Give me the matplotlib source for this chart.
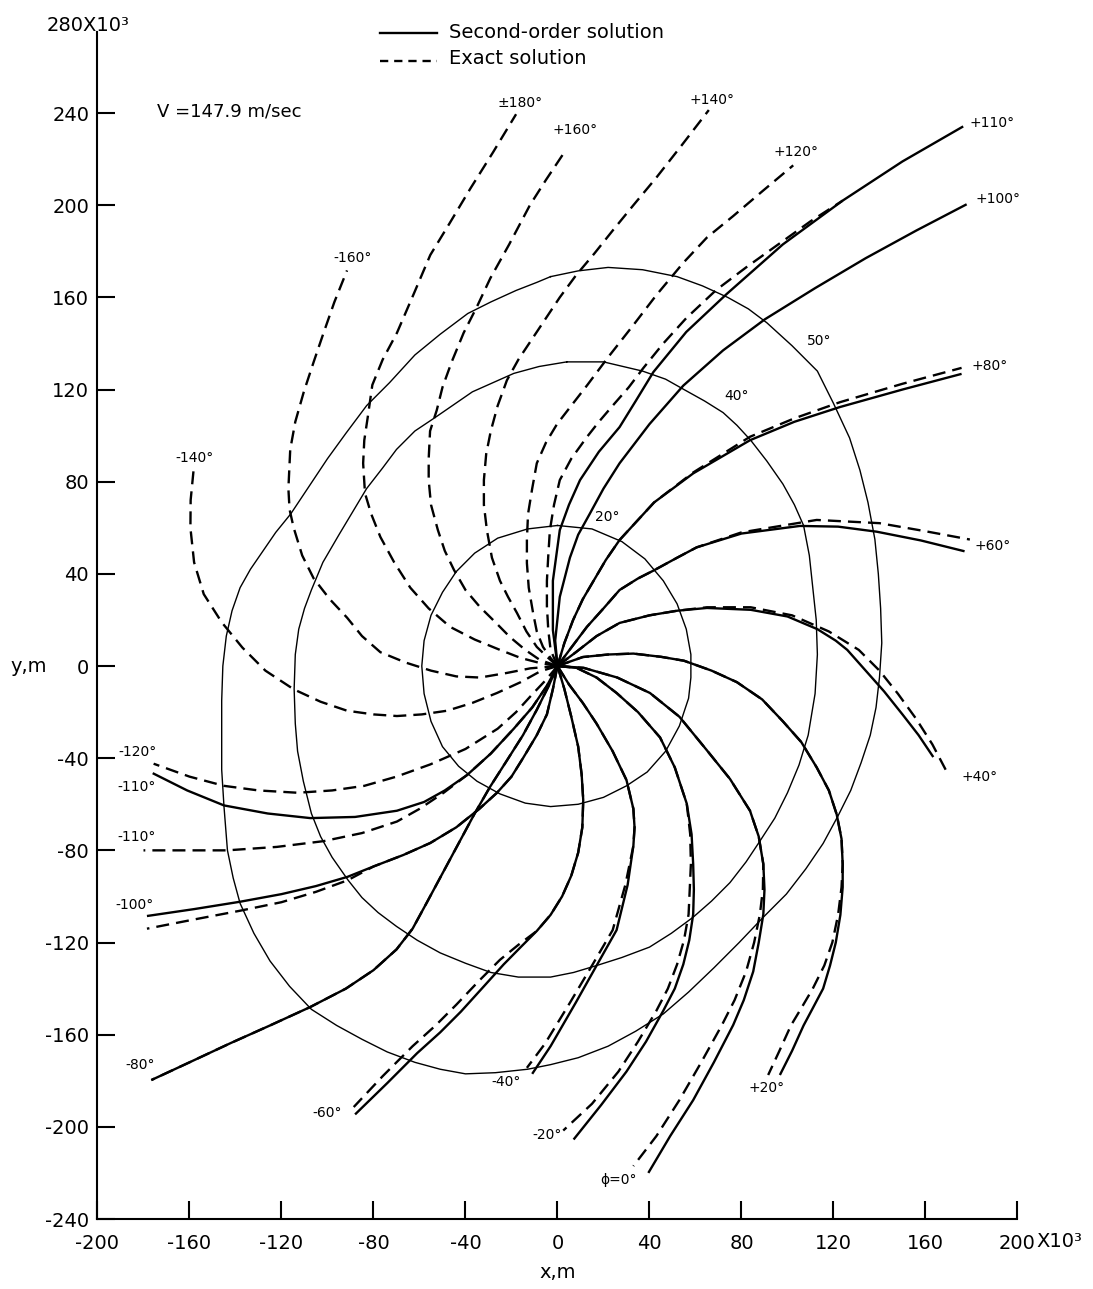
import matplotlib
matplotlib.use("Agg")
import matplotlib.pyplot as plt

# ---------------- axis ticks ----------------
x_ticks = [-200, -160, -120, -80, -40, 0, 40, 80, 120, 160, 200]
y_ticks = [-240, -200, -160, -120, -80, -40, 0, 40, 80, 120, 160, 200, 240]

# ---------------- contour lines (thin) ----------------
c20_x = [0, 15, 28, 38, 46, 52, 56, 58, 58, 57, 53, 47, 39, 30, 20, 9, -3, -14, -25, -35, -43, -50, -55,
         -58, -59, -58, -55, -50, -44, -36, -26, -13, 0]
c20_y = [61, 59.5, 54, 46.5, 37, 27, 16, 5, -5, -14, -26, -37, -46, -52, -57, -60, -61, -59.5, -55.5, -50,
         -43.5, -35, -24, -12, 0, 11, 22, 32, 41, 49, 55.5, 59.5, 61]

c40_x = [4, 20, 37, 47, 55, 64, 72, 78, 84, 91, 98, 103, 107, 109.5, 111, 112.5, 113, 112, 109, 105, 100,
         94.5, 88, 82, 75, 67, 59, 49.5, 40, 28, 17, 7, -3, -17, -29, -40, -51, -61, -70, -78, -85, -91,
         -98, -103, -107, -110.5, -113, -114, -114.5, -114, -112.5, -110, -107, -102, -95, -89, -83, -76,
         -70, -62, -53, -45, -37, -28, -19, -8, 4]
c40_y = [132, 132, 128, 124.5, 120, 115, 110, 104.5, 98, 89, 79, 70, 61, 48, 34, 20, 5, -12, -30, -43,
         -55, -66, -76, -85, -94, -102, -109, -116, -122, -126.5, -130, -133, -135, -135, -133, -129,
         -124.5, -119, -113, -107, -100.5, -93, -83, -74, -64, -50, -37, -25, -10, 5, 16, 25, 33, 45, 57,
         67, 77, 86, 94, 102, 108, 113.5, 119, 123, 127, 130, 132]

c50_x = [-3, 9, 22, 37, 52, 63, 74, 83, 91, 102, 113, 120, 127, 131.5, 135, 138, 139.5, 140.5, 141, 140,
         138.5, 136, 132, 127.5, 122, 115.5, 108, 99.5, 89.5, 79, 68, 57, 46, 34, 22, 9, -3, -13, -27, -40,
         -51, -62, -74, -85, -96, -107, -116.5, -125, -132, -138, -141, -143.5, -145, -146, -146, -146,
         -145.5, -144, -141.5, -138, -133.5, -128, -122.5, -116, -108, -100, -92, -83, -73, -62, -51, -39,
         -29, -18, -9, -3]
c50_y = [169, 171.5, 173, 172, 169, 165, 160, 155, 149, 139, 128, 114, 99, 85, 71, 55, 40, 25, 10, -5,
         -18, -30, -42, -54, -65, -77, -88, -99, -109, -120, -131, -141.5, -151, -158.5, -165, -170, -173,
         -175, -176.5, -177, -175, -172, -167.5, -162, -156, -149, -139, -128, -116, -103, -92, -80, -61,
         -45, -30, -15, 0, 13, 24, 34, 42, 50, 58, 66, 78, 90, 101, 113, 123, 135, 144, 153, 158, 163,
         166.5, 169]

contour_labels = ["20°", "40°", "50°"]
contour_label_x = [21.5, 78, 114]
contour_label_y = [64.7, 117.2, 141]

# ---------------- second-order solution (solid) ----------------
so_p110_x = [0, -2, -2, 1, 5, 9.8, 18, 27, 34, 41.7, 56, 73.6, 98, 124, 150, 176.4]
so_p110_y = [0, 15.6, 37, 59, 70, 80.7, 93, 103.7, 115, 127.6, 145, 161.5, 183, 202, 219, 234.2]

so_p100_x = [0, -1, 1, 5.4, 9, 14, 20, 27, 40, 54.7, 72, 90.2, 112, 134, 156, 177.9]
so_p100_y = [0, 11, 30, 47, 57, 66, 77, 88, 105, 121.7, 137, 150.5, 164, 177, 189, 200.4]

so_p80_x = [0, 3, 6.8, 11, 15.7, 21, 27, 42, 59, 83.7, 103, 122.8, 150, 175.7]
so_p80_y = [0, 10, 20, 29, 37, 46, 54.7, 71, 83.6, 98, 106, 112.4, 120, 126.8]

so_p60_x = [0, 6, 12.8, 20, 27, 35, 41.7, 52, 60.5, 80, 105.4, 122, 138.8, 158, 177]
so_p60_y = [0, 8, 17, 25, 33, 38, 41.4, 47, 51.5, 57.5, 60.8, 60.5, 58.3, 54.5, 49.8]

so_p40_x = [0, 8, 17, 27, 40, 52, 65, 84, 100, 113, 121, 126, 134, 142, 150, 157, 163.4]
so_p40_y = [0, 6, 13, 18.7, 22, 24, 25.2, 24.4, 21.5, 16, 11, 7, -2, -11, -21, -30, -39.5]

so_p20_x = [0, 11, 22, 33, 45, 55, 67, 78, 89, 98, 106, 112.7, 118, 121.4, 123.5, 124, 124, 123, 121,
            118.5, 115.5, 111, 107, 102, 96.7]
so_p20_y = [0, 3.9, 5, 5.4, 4, 2.3, -2, -7, -14.5, -24, -33, -44, -54, -64.4, -75, -86, -96, -108, -120,
            -130, -140, -148.5, -156, -167, -177.5]

so_0_x = [0, 11.4, 26, 40.2, 53, 64.9, 75, 83.7, 87.5, 89.5, 90, 89.5, 87.5, 85.1, 81, 76.4, 68, 59, 49, 39.5]
so_0_y = [0, -0.8, -5, -11.7, -22, -36.5, -49, -62.8, -74, -86, -97, -107.8, -120, -132.6, -145, -155.8,
          -172, -188.4, -204, -220]

so_m20_x = [0, 8.3, 17, 25.7, 35, 44.6, 51, 56.2, 58.3, 59, 59.3, 59, 57.3, 54.7, 51, 46, 38.5, 30, 19, 7]
so_m20_y = [0, -0.8, -5, -11.7, -20, -31, -44, -59.7, -73, -86, -97, -107.8, -119, -129.5, -140, -149.6,
            -163, -176, -190.5, -205.5]

so_m40_x = [0, 5, 11, 17, 24, 30, 33, 33.5, 33, 30.5, 25.7, 17, 8, -3, -11]
so_m40_y = [0, -8, -16, -25, -37, -49.5, -62, -70, -78, -95, -114.6, -130, -146, -165, -177]

so_m60_x = [0, 3, 6, 9, 10.5, 11.2, 10.8, 9, 6, 2, -3, -9, -16, -23.4, -32, -42, -51, -61, -74, -88]
so_m60_y = [0, -10, -22, -35, -47, -58.2, -70, -81, -91, -100, -108, -115, -122, -129.5, -139, -150, -159,
            -168, -181, -194.6]

so_m80_x = [0, -4, -9, -15, -22, -29.3, -36, -43, -50, -57, -63, -70, -80, -92, -107.5, -125, -142, -160, -176.6]
so_m80_y = [0, -9, -19, -30, -41, -52.4, -64, -77, -90, -103, -114, -123, -132, -140, -148, -156, -163.6, -172, -179.7]

so_m100_x = [0, -2, -4.6, -9, -15, -20, -26.3, -34, -44, -55.3, -67, -80, -91.3, -105, -120, -138, -158, -178.5]
so_m100_y = [0, -10, -21, -30, -40, -48, -55, -62, -70, -76.8, -82, -87, -91.5, -95.5, -99, -102.3, -105.5, -108.5]

so_m110_x = [0, -4.6, -11, -19, -29, -39.3, -49, -58, -69.8, -88, -107.5, -126, -145, -161, -176]
so_m110_y = [0, -8.6, -18, -27.2, -38, -47.3, -54, -59, -62.8, -65.5, -66, -64, -60.5, -54, -46.5]

# ---------------- exact solution (dashed) ----------------
ex_180_x = [0, -7.6, -16, -25, -36, -46.7, -56, -64, -71, -77, -81, -83.7, -84.5, -84, -82.5, -80.5, -76,
            -69.8, -62.5, -55.3, -47, -37.9, -28, -18]
ex_180_y = [0, 1.3, 3.5, 7, 11.5, 17, 25, 34, 45, 56, 66, 75, 88, 98, 108, 122, 133, 144.6, 161.5, 178.4,
            192, 207.2, 223, 239.5]

ex_p160_x = [0, -7.6, -14, -20.7, -27, -33.7, -40, -45, -49, -52, -55, -56, -56, -55.4, -52.5, -50, -46,
             -40.8, -35, -29.2, -21, -12, -5, 3]
ex_p160_y = [0, 2.6, 7, 12.6, 19, 25.6, 33, 41.7, 50, 59, 70, 80.7, 90, 102, 111, 121, 132, 144.6, 156,
             168.3, 183, 200, 211, 223]

ex_p140_x = [0, -4, -9, -13.5, -17.6, -21.5, -25, -28.5, -30.7, -32, -32, -31, -29, -26, -22, -17, -11,
             -5, 1, 8, 16, 24, 33, 43, 54, 65.8]
ex_p140_y = [0, 3.5, 8.3, 15, 23, 30, 37, 47, 59, 70, 80.7, 92, 102, 113, 124, 133, 142, 151, 160,
             169.5, 179, 189, 200, 212, 226, 241.3]

ex_p120_x = [0, -3, -6.3, -9, -10.6, -12.5, -13.3, -13.3, -12.8, -11, -9, -5, -0.2, 6, 13, 22, 33, 43,
             54.7, 65, 76.4, 89, 102.5]
ex_p120_y = [0, 3.5, 8.3, 15, 23, 34, 44.7, 55, 66, 77, 88, 97, 105, 113, 122, 134, 148, 161, 175, 186,
             195.3, 206, 217.3]

ex_p110_x = [0, -3, -4, -4.6, -4.6, -4, -3.3, -1.5, 1, 6, 12.8, 18, 24, 31, 37.3, 46, 56, 69, 82, 96, 110, 124]
ex_p110_y = [0, 7, 15.6, 26, 37, 48, 59, 70, 80.7, 90, 99.4, 106, 113, 121, 129.3, 140, 151, 163.2, 173,
             183, 193, 202]

ex_p80_x = [0, 3, 6.8, 11, 15.7, 21, 27, 42, 59, 83.7, 103, 122.8, 150, 175.7]
ex_p80_y = [0, 10, 20, 29, 37, 46, 54.7, 71, 84, 99.5, 107.5, 114.5, 122.5, 129.4]

ex_p60_x = [0, 6, 12.8, 20, 27, 35, 41.7, 52, 60.5, 80, 112.7, 140, 160, 179.3]
ex_p60_y = [0, 8, 17, 25, 33, 38, 41.4, 47, 51.5, 58, 63.4, 62, 58.5, 54.9]

ex_p40_x = [0, 8, 17, 27, 40, 52, 65, 84, 102, 118, 131, 140, 148, 156, 163, 169.2]
ex_p40_y = [0, 6, 13, 18.7, 22, 24, 25.5, 25.5, 22, 15, 7, -2, -12, -23, -34, -45.8]

ex_p20_x = [0, 11, 22, 33, 45, 55, 67, 78, 89, 98, 106, 112.7, 118, 121.4, 123.5, 124, 123.5, 122,
            119.5, 116, 111, 106, 101.5, 96.5, 91.6]
ex_p20_y = [0, 3.9, 5, 5.4, 4, 2.3, -2, -7, -14.5, -24, -33, -44, -54, -64.4, -75, -86, -96, -108,
            -120, -130, -140, -148.5, -156, -167, -177.5]

ex_0_x = [0, 11.4, 26, 40.2, 53, 64.9, 75, 83.7, 87.5, 89.5, 89.3, 88, 85.5, 82, 77, 71.5, 62.5, 53, 43, 33]
ex_0_y = [0, -0.8, -5, -11.7, -22, -36.5, -49, -62.8, -74, -86, -97, -107.8, -120, -132.6, -145, -155.8,
          -172, -188.4, -204, -217]

ex_m20_x = [0, 8.3, 17, 25.7, 35, 44.6, 51, 56.2, 57.7, 58, 57.5, 57, 55, 52, 48, 43, 35, 26.5, 15, 2.5]
ex_m20_y = [0, -0.8, -5, -11.7, -20, -31, -44, -59.7, -73, -86, -97, -107.8, -119, -129.5, -140, -149.6,
            -163, -176, -190, -201.6]

ex_m40_x = [0, 5, 11, 17, 24, 30, 33, 33.5, 33, 29.5, 24, 15, 5.5, -5.5, -13.3]
ex_m40_y = [0, -8, -16, -25, -37, -49.5, -62, -70, -78, -95, -114.6, -130, -146, -164, -174.4]

ex_m60_x = [0, 3, 6, 9, 10.5, 11.2, 10.8, 9, 6, 2, -3, -9, -17, -25, -34, -44, -53, -63, -76, -88.6]
ex_m60_y = [0, -10, -22, -35, -47, -58.2, -70, -81, -91, -100, -108, -115, -121, -127.5, -136.5, -147,
            -156, -165, -178, -191.4]

ex_m80_x = so_m80_x
ex_m80_y = so_m80_y

ex_m100_x = [0, -2, -4.6, -9, -15, -20, -26.3, -34, -44, -55.3, -67, -80, -91.3, -105, -120, -138, -158, -178.5]
ex_m100_y = [0, -10, -21, -30, -40, -48, -55, -62, -70, -76.8, -82, -87, -93, -98, -102.5, -106.2, -110, -114]

ex_m110_x = [0, -4.6, -11, -19, -29, -39.3, -49.5, -60, -69.8, -85, -101.7, -122, -143.7, -162, -180]
ex_m110_y = [0, -8.6, -18, -27.2, -38, -47.3, -55, -62, -67.5, -72.5, -76, -78.5, -80, -80, -80]

ex_m120_x = [0, -5, -11.8, -18, -26, -40, -55.3, -70, -84, -98, -113, -130, -145, -160, -175.6]
ex_m120_y = [0, -6, -13.2, -20, -27.2, -36, -42.7, -48, -52, -54, -55, -54, -52, -48, -42.4]

ex_m140_x = [0, -7.5, -16, -26.3, -37, -48, -59, -69.8, -80, -91.5, -103, -114.7, -127, -137, -146,
             -153.8, -158, -159.6, -159.5, -158.2]
ex_m140_y = [0, -2.3, -7, -11.7, -16, -19.4, -21, -21.7, -21, -19.4, -15.5, -10.1, -2, 8, 19, 31.2, 45,
             60, 72, 85.3]

ex_m160_x = [0, -11.8, -22, -33.7, -44, -55, -66, -77, -85, -91.5, -99, -106, -111, -114.7, -116.5, -117,
             -116.2, -114, -110.3, -106, -101.7, -97, -91.5]
ex_m160_y = [0, -1, -3, -5, -4.5, -2, 1.5, 6, 13, 21, 29, 38, 48, 60, 68, 77, 94, 106, 119, 132, 144.6,
             158, 171.7]

# ---------------- curve labels ----------------
curve_labels = ["±180°", "+160°", "+140°", "+120°", "+110°", "+100°", "+80°", "+60°", "+40°", "+20°",
                "ϕ=0°", "-20°", "-40°", "-60°", "-80°", "-100°", "-110°", "-110°", "-120°", "-140°", "-160°"]
curve_label_x = [-16.3, 7.6, 67.2, 103.7, 189, 191.5, 188, 189.3, 183.7, 91.1,
                 26.7, -4.6, -22.4, -100.2, -181.5, -183.7, -182.8, -182.8, -182.8, -158, -89.3]
curve_label_y = [244.4, 232.6, 245.7, 223.1, 235.7, 202.7, 130.2, 52.1, -48.2, -183.2,
                 -223.1, -203.6, -180.6, -194, -173.2, -103.7, -74.2, -52.5, -37.3, 90.3, 177.1]

# ---------------- figure ----------------
fig = plt.figure(figsize=(10.93, 12.89), dpi=100)
ax = fig.add_axes([0.0892, 0.0543, 0.8417, 0.9295])
ax.set_xlim(-200, 200)
ax.set_ylim(-240, 280)

thin = dict(color="black", lw=1.0, solid_joinstyle="round")
solid = dict(color="black", lw=1.7, solid_capstyle="butt", solid_joinstyle="round")
dashed = dict(color="black", lw=1.7, linestyle=(0, (5.5, 3)), dash_capstyle="butt")

for cx, cy in [(c20_x, c20_y), (c40_x, c40_y), (c50_x, c50_y)]:
    ax.plot(cx, cy, **thin)

for sx, sy in [(so_p110_x, so_p110_y), (so_p100_x, so_p100_y), (so_p80_x, so_p80_y),
               (so_p60_x, so_p60_y), (so_p40_x, so_p40_y), (so_p20_x, so_p20_y),
               (so_0_x, so_0_y), (so_m20_x, so_m20_y), (so_m40_x, so_m40_y),
               (so_m60_x, so_m60_y), (so_m80_x, so_m80_y), (so_m100_x, so_m100_y),
               (so_m110_x, so_m110_y)]:
    ax.plot(sx, sy, **solid)

for ex, ey in [(ex_180_x, ex_180_y), (ex_p160_x, ex_p160_y), (ex_p140_x, ex_p140_y),
               (ex_p120_x, ex_p120_y), (ex_p110_x, ex_p110_y), (ex_p80_x, ex_p80_y),
               (ex_p60_x, ex_p60_y), (ex_p40_x, ex_p40_y), (ex_p20_x, ex_p20_y),
               (ex_0_x, ex_0_y), (ex_m20_x, ex_m20_y), (ex_m40_x, ex_m40_y),
               (ex_m60_x, ex_m60_y), (ex_m80_x, ex_m80_y), (ex_m100_x, ex_m100_y),
               (ex_m110_x, ex_m110_y), (ex_m120_x, ex_m120_y), (ex_m140_x, ex_m140_y),
               (ex_m160_x, ex_m160_y)]:
    ax.plot(ex, ey, **dashed)

for t, tx, ty in zip(curve_labels, curve_label_x, curve_label_y):
    ax.text(tx, ty, t, fontsize=10, ha="center", va="center", clip_on=False)
for t, tx, ty in zip(contour_labels, contour_label_x, contour_label_y):
    ax.text(tx, ty, t, fontsize=10, ha="center", va="center")

# legend (drawn as in the original)
ax.plot([-77.2, -52.4], [274.7, 274.7], color="black", lw=1.7, clip_on=False)
ax.plot([-77.2, -52.4], [262.7, 262.7], color="black", lw=1.7, linestyle=(0, (3.5, 2.5)), clip_on=False)
ax.text(-47.2, 274.8, "Second-order solution", fontsize=14, ha="left", va="center")
ax.text(-47.2, 263.8, "Exact solution", fontsize=14, ha="left", va="center")

ax.text(-174, 240.5, "V =147.9 m/sec", fontsize=13, ha="left", va="center")

# axes styling
for s in ["top", "right"]:
    ax.spines[s].set_visible(False)
ax.spines["left"].set_linewidth(1.5)
ax.spines["bottom"].set_linewidth(1.5)
ax.spines["left"].set_bounds(-240, 275)

ax.set_xticks(x_ticks)
ax.set_xticklabels([str(v) for v in x_ticks])
ax.set_yticks(y_ticks)
ax.set_yticklabels([str(v) for v in y_ticks])
ax.tick_params(axis="both", direction="in", length=13, width=1.5, labelsize=14)
ax.tick_params(axis="x", pad=11)
ax.tick_params(axis="y", pad=6)

ax.text(208.2, -249.6, "X10³", fontsize=14, ha="left", va="center", clip_on=False)
ax.text(-222, 278.2, "280X10³", fontsize=14, ha="left", va="center", clip_on=False)
ax.text(-238, 0, "y,m", fontsize=14, ha="left", va="center", clip_on=False)
ax.text(0, -263, "x,m", fontsize=14, ha="center", va="center", clip_on=False)

fig.savefig("out.png", dpi=100)
